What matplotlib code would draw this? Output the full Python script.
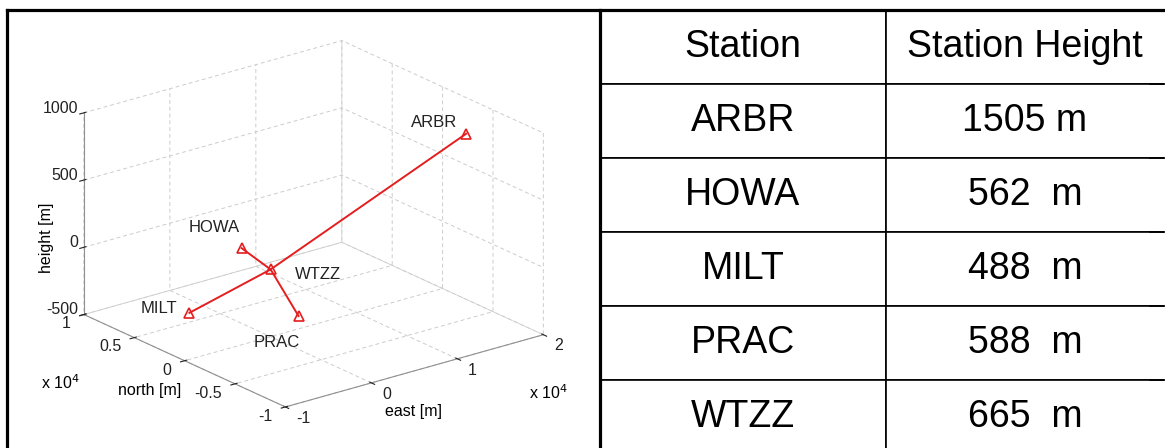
import matplotlib
matplotlib.use('Agg')
import matplotlib.pyplot as plt
from matplotlib.lines import Line2D
from matplotlib.transforms import offset_copy

plt.rcParams['font.family'] = ['Liberation Sans', 'DejaVu Sans']
plt.rcParams['grid.linestyle'] = (0, (4, 3))
plt.rcParams['grid.color'] = '#cccccc'
plt.rcParams['grid.linewidth'] = 0.7

# station data (east/north in m relative to WTZZ)
stations = ['ARBR', 'HOWA', 'MILT', 'PRAC', 'WTZZ']
east = [17700, 3430, -8950, -3690, 0]
north = [-4300, 5800, 420, -5920, 0]
station_height = [1505, 562, 488, 588, 665]

east_ticks = [-1e4, 0, 1e4, 2e4]
north_ticks = [-1e4, -5e3, 0, 5e3, 1e4]
height_ticks = [-500, 0, 500, 1000]

W, H = 1165, 448
fig = plt.figure(figsize=(W / 100, H / 100), dpi=100)

def fx(x):
    return x / W

def fy(y):
    return 1 - y / H

# ---- 3D station plot ----
ax = fig.add_axes([0.004, -0.013, 0.52, 1.0], projection='3d')
ax.set_proj_type('ortho')
ax.view_init(elev=21, azim=-128)
ax.set_box_aspect((1, 1, 0.66), zoom=1.107)

ref = station_height[stations.index('WTZZ')]
z = [h - ref for h in station_height]
iw = stations.index('WTZZ')
red = '#e41e1e'
for i in range(len(stations)):
    if i == iw:
        continue
    ax.plot([east[iw], east[i]], [north[iw], north[i]], [z[iw], z[i]],
            color=red, lw=1.4)
ax.plot(east, north, z, ls='none', marker='^', ms=7, mfc='none', mec=red, mew=1.2)

# label offsets in pixels (dx, dy, ha, va)
offs = {
    'ARBR': (-9, 4, 'right', 'bottom'),
    'HOWA': (-2, 13, 'right', 'bottom'),
    'MILT': (-12, 4, 'right', 'center'),
    'PRAC': (-22, -19, 'center', 'top'),
    'WTZZ': (24, -5, 'left', 'center'),
}
for i, s in enumerate(stations):
    dx, dy, ha, va = offs[s]
    tr = offset_copy(ax.transData, fig=fig, x=dx, y=dy, units='dots')
    ax.text(east[i], north[i], z[i], s, transform=tr, ha=ha, va=va,
            fontsize=12, color='#222222')

ax.set_xlim(-1e4, 2e4)
ax.set_ylim(-1e4, 1e4)
ax.set_zlim(-500, 1000)
ax.set_xticks(east_ticks)
ax.set_xticklabels(['-1', '0', '1', '2'], ha='left', va='baseline')
ax.set_yticks(north_ticks)
ax.set_yticklabels(['-1', '-0.5', '0', '0.5', '1'], ha='right', va='baseline')
ax.set_zticks(height_ticks)
ax.set_zticklabels([str(t) for t in height_ticks], ha='right', va='baseline')
ax.tick_params(labelsize=11.5, colors='#222222')
ax.tick_params(axis='x', pad=1)
ax.tick_params(axis='y', pad=0.5)
ax.tick_params(axis='z', pad=-5.8)
for axis in (ax.xaxis, ax.yaxis, ax.zaxis):
    axis.set_pane_color((1, 1, 1, 0))
    axis.pane.set_edgecolor('none')
    axis.line.set_color('#909090')
    axis.line.set_linewidth(0.8)

fig.text(fx(47), fy(238), 'height [m]', rotation=90, ha='center', va='center', fontsize=11.5)
fig.text(fx(150), fy(391), 'north [m]', ha='center', va='center', fontsize=11.5)
fig.text(fx(414), fy(411), 'east [m]', ha='center', va='center', fontsize=11.5)
fig.text(fx(60), fy(383), r'x 10$^4$', ha='center', va='center', fontsize=11.5)
fig.text(fx(548), fy(393), r'x 10$^4$', ha='center', va='center', fontsize=11.5)

# ---- table ----
tax = fig.add_axes([0, 0, 1, 1])
tax.set_axis_off()
tax.set_xlim(0, 1)
tax.set_ylim(0, 1)
rows = [[s, str(h).ljust(5) + 'm'] for s, h in zip(stations, station_height)]
tbl = tax.table(cellText=rows, colLabels=['Station', 'Station Height'],
                cellLoc='center', colWidths=[286, 278],
                bbox=[fx(600), fy(454), fx(1164) - fx(600), fy(10) - fy(454)])
tbl.auto_set_font_size(False)
for (r, c), cell in tbl.get_celld().items():
    cell.set_linewidth(1.2)
    cell.set_edgecolor('black')
    cell.get_text().set_fontsize(27)
    if c == 1:
        cell.visible_edges = 'BTL'

# frame
for xs, ys in [((7, W), (10, 10)), ((7, 7), (10, H)), ((600, 600), (10, H))]:
    fig.add_artist(Line2D([fx(v) for v in xs], [fy(v) for v in ys], color='black', lw=2.3))
for k in range(1, 6):
    yk = 10 + k * 74
    fig.add_artist(Line2D([fx(1150), fx(W)], [fy(yk), fy(yk)], color='black', lw=1.2))

fig.savefig('out.png', dpi=100)
